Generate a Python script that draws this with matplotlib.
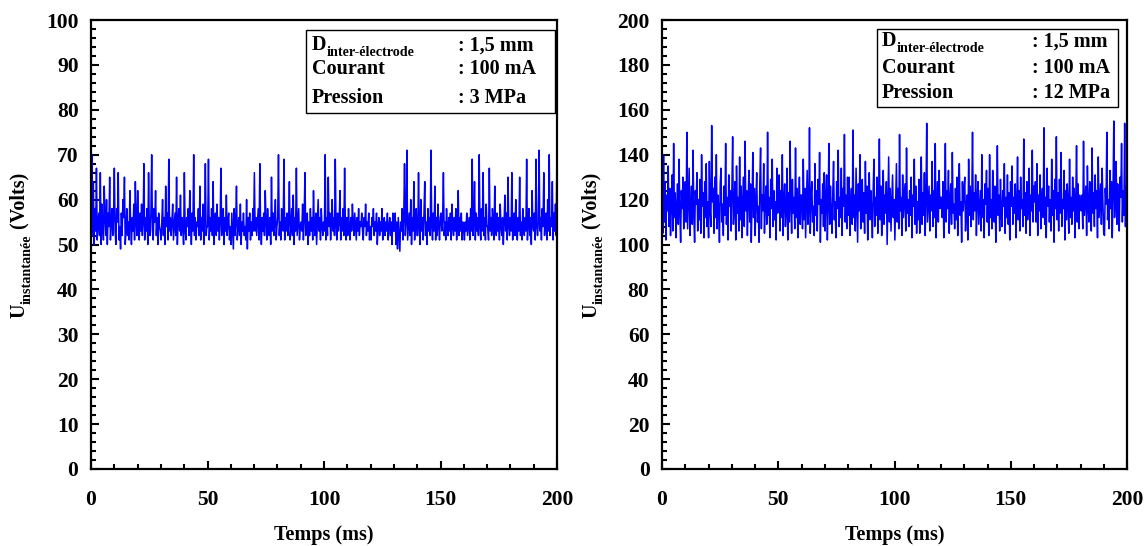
import numpy as np
import matplotlib
matplotlib.use("Agg")
import matplotlib.pyplot as plt
from matplotlib.patches import Rectangle
from matplotlib.ticker import MultipleLocator

# ---------------- data ----------------
t_start, t_end = 0.0, 200.0  # ms

u_3mpa = [
    56,70,52,64,50,58,53,67,51,55,57,52,66,50,59,54,51,63,56,52,60,50,57,54,65,51,55,58,52,56,
    67,53,50,58,55,66,51,54,49,57,52,60,56,65,50,53,58,52,55,51,62,54,50,56,53,59,51,64,55,52,
    62,54,51,57,53,59,52,55,68,51,56,53,58,50,66,54,52,57,70,53,51,58,55,62,52,56,50,57,54,53,
    51,55,60,52,56,50,63,54,57,51,69,53,56,52,55,59,51,54,57,52,65,50,55,58,53,61,52,56,54,50,
    66,53,51,56,54,58,52,62,55,50,57,53,70,52,56,51,55,54,58,52,63,51,56,53,59,50,55,68,52,54,
    54,69,51,56,53,58,52,64,50,55,57,52,59,53,56,51,55,67,52,54,58,50,56,53,61,52,55,57,51,54,
    50,57,53,49,58,52,55,63,51,54,56,52,59,50,55,53,57,52,54,51,60,49,56,53,57,51,55,52,58,53,
    66,53,56,52,55,58,51,68,54,50,56,53,57,52,62,55,51,58,54,52,56,50,65,53,57,52,55,60,51,54,
    56,70,52,55,51,58,54,53,69,51,56,53,57,52,55,64,51,54,58,52,61,50,56,53,67,52,55,58,51,54,
    55,53,59,51,56,66,52,54,57,50,55,52,58,53,56,51,62,54,52,57,50,55,60,53,56,51,58,54,52,55,
    53,70,51,56,52,65,54,57,51,55,60,53,56,52,69,54,51,57,53,55,62,51,56,53,58,52,67,54,51,56,
    52,58,54,51,56,53,59,55,52,57,54,51,56,53,58,52,55,54,57,53,51,56,54,59,52,55,53,57,51,54,
    51,56,54,58,52,55,53,57,50,54,56,52,55,53,58,51,54,56,52,55,53,57,51,54,56,52,55,50,57,53,
    53,57,50,55,49,56,52,48.5,55,53,58,51,56,68,52,55,71,51,54,57,52,60,50,56,53,64,51,55,58,52,
    52,66,54,50,60,53,56,51,57,64,52,55,50,58,53,56,52,71,54,51,57,53,63,51,56,52,59,54,51,56,
    57,53,56,66,52,55,51,58,54,52,56,53,57,51,59,54,52,56,53,58,51,55,62,52,56,53,57,51,55,54,
    51,55,53,57,52,54,56,51,58,53,69,52,55,64,51,57,53,56,52,70,54,51,58,53,66,52,56,51,59,54,
    54,51,67,53,56,52,58,55,51,63,54,52,57,53,56,51,59,54,52,56,50,55,61,53,57,51,65,54,52,56,
    53,66,51,55,57,52,60,54,51,56,53,65,52,55,51,58,54,52,56,53,69,51,55,58,52,56,50,62,54,53,
    57,51,69,54,52,55,71,53,56,51,58,54,66,52,55,57,51,60,53,70,52,56,54,64,51,57,53,59,52,73,
]

u_12mpa = [
    118,105,140,110,128,102,122,115,135,108,125,104,119,131,106,145,112,123,103,117,127,109,138,114,101,124,116,130,107,121,
    128,110,150,107,121,134,104,116,126,109,142,113,101,124,118,132,106,120,111,129,105,140,117,123,103,128,112,136,108,119,
    103,137,115,108,153,119,125,105,130,112,140,107,122,116,101,127,134,110,118,104,126,113,145,109,121,102,131,117,124,106,
    123,148,109,117,128,102,135,114,121,106,139,111,126,103,119,130,108,146,115,124,104,120,133,110,127,101,118,141,112,125,
    104,120,132,110,117,101,128,143,107,122,115,136,105,119,126,109,150,113,121,103,129,116,138,108,124,111,119,102,134,114,
    118,131,106,124,112,140,104,120,127,108,115,134,102,123,110,146,117,105,129,114,121,107,143,112,125,103,118,130,109,122,
    122,107,138,111,125,103,119,133,109,116,152,105,121,128,110,117,104,136,113,124,106,129,118,141,101,120,114,127,108,132,
    106,120,131,102,118,145,109,126,114,105,123,137,111,119,103,128,116,142,108,121,112,134,104,125,117,149,110,122,107,130,
    113,130,104,117,125,109,151,112,122,106,134,118,101,127,115,140,107,120,129,110,123,105,137,114,126,102,119,132,111,124,
    116,103,124,138,108,121,113,130,105,119,147,111,126,104,117,133,109,122,114,128,100,121,139,110,125,106,118,131,112,120,
    102,118,136,110,125,107,149,115,121,104,131,112,119,127,106,143,114,120,108,124,113,130,103,122,117,138,109,126,105,119,
    111,129,105,117,139,109,123,113,132,104,120,154,110,118,126,106,122,115,137,108,124,112,145,103,119,128,110,133,116,121,
    121,112,128,103,119,145,110,124,116,133,105,120,127,109,141,114,118,107,125,111,130,104,122,136,113,119,101,128,115,124,
    130,106,117,122,102,138,113,126,108,119,150,111,123,115,131,104,121,128,109,117,124,106,140,112,120,103,127,118,133,110,
    125,104,140,112,120,107,133,118,110,126,101,119,144,113,122,106,129,115,108,124,117,136,105,121,112,131,109,123,102,128,
    117,135,109,121,114,127,103,118,139,111,124,106,130,116,120,108,147,113,123,105,128,111,119,134,104,122,115,142,110,126,
    119,128,110,136,104,122,115,131,107,118,125,112,152,109,121,103,134,117,126,110,120,106,138,113,124,101,129,116,148,111,
    123,106,129,114,141,108,120,116,133,102,124,111,127,118,105,138,112,121,109,130,115,125,103,119,144,110,127,107,122,117,
    115,122,107,146,113,119,126,104,135,117,110,128,121,106,143,114,123,108,131,116,124,103,139,112,120,127,109,134,118,105,
    104,125,118,150,111,120,107,133,116,128,103,124,155,112,119,137,109,127,115,106,130,121,145,110,124,113,154,108,126,119,
]

info_labels = ["Courant", "Pression"]
info_left = [": 1,5 mm", ": 100 mA", ": 3 MPa"]
info_right = [": 1,5 mm", ": 100 mA", ": 12 MPa"]

# ---------------- style ----------------
plt.rcParams['font.family'] = ['Liberation Serif', 'DejaVu Serif']
plt.rcParams['font.weight'] = 'bold'

fig = plt.figure(figsize=(11.44, 5.46), dpi=100)
axL = fig.add_axes([91/1144, 77/546, 466/1144, 449/546])
axR = fig.add_axes([662/1144, 77/546, 465/1144, 449/546])

TFS = 15.5   # tick labels
FS = 14.5    # labels / box text
SFS = 10.2   # subscripts

def style(ax, ymax, ymaj, ymin):
    ax.set_xlim(0, 200)
    ax.set_ylim(0, ymax)
    ax.xaxis.set_major_locator(MultipleLocator(50))
    ax.xaxis.set_minor_locator(MultipleLocator(10))
    ax.yaxis.set_major_locator(MultipleLocator(ymaj))
    ax.yaxis.set_minor_locator(MultipleLocator(ymin))
    ax.tick_params(which='both', direction='in', width=1.5, top=False, right=False)
    ax.tick_params(which='major', length=6)
    ax.tick_params(which='minor', length=3.5)
    ax.tick_params(axis='x', which='major', pad=15, labelsize=TFS)
    ax.tick_params(axis='y', which='major', pad=9, labelsize=TFS)
    for lab in ax.get_xticklabels() + ax.get_yticklabels():
        lab.set_fontweight('bold')
    for s in ax.spines.values():
        s.set_linewidth(1.6)
    ax.set_xlabel("Temps (ms)", fontsize=FS, fontweight='bold', labelpad=11)

def plot_sig(ax, vals):
    t = np.linspace(t_start, t_end, len(vals))
    ax.plot(t, vals, color='#0000FF', lw=1.1)

def info_box(ax, x0, x1, y0, y1, xtxt, xcol, rows, vals):
    ax.add_patch(Rectangle((x0, y0), x1 - x0, y1 - y0, transform=ax.transAxes,
                           fill=True, facecolor='white', edgecolor='black', lw=1.0, zorder=5))
    d = ax.text(xtxt, rows[0], "D", transform=ax.transAxes, fontsize=FS,
                fontweight='bold', va='center', ha='left', zorder=6)
    ax.annotate("inter-électrode", xy=(1, 0), xycoords=d, xytext=(0.3, -2.5),
                textcoords='offset points', fontsize=SFS,
                fontweight='bold', va='bottom', ha='left', zorder=6)
    for lab, y in zip(info_labels, rows[1:]):
        ax.text(xtxt, y, lab, transform=ax.transAxes, fontsize=FS,
                fontweight='bold', va='center', ha='left', zorder=6)
    for v, y in zip(vals, rows):
        ax.text(xcol, y, v, transform=ax.transAxes, fontsize=FS,
                fontweight='bold', va='center', ha='left', zorder=6)

def ylabel(xpix, ybot_pix):
    u = fig.text(xpix/1144, (546-ybot_pix)/546, "U", rotation=90, fontsize=FS,
                 fontweight='bold', ha='center', va='bottom')
    s = axL.annotate("instantanée", xy=(1, 1), xycoords=u, xytext=(3, 0),
                     textcoords='offset points', rotation=90, fontsize=SFS,
                     fontweight='bold', ha='right', va='bottom', annotation_clip=False)
    axL.annotate(" (Volts)", xy=(1, 1), xycoords=(u, s), rotation=90, fontsize=FS,
                 fontweight='bold', ha='right', va='bottom', annotation_clip=False)

plot_sig(axL, u_3mpa)
plot_sig(axR, u_12mpa)
style(axL, 100, 10, 2)
style(axR, 200, 20, 4)

info_box(axL, 0.461, 0.996, 0.793, 0.978, 0.474, 0.788, [0.944, 0.891, 0.826], info_left)
info_box(axR, 0.462, 0.981, 0.806, 0.980, 0.473, 0.796, [0.953, 0.893, 0.838], info_right)

ylabel(19, 318)
ylabel(591, 318)

fig.savefig("out.png", dpi=100)
